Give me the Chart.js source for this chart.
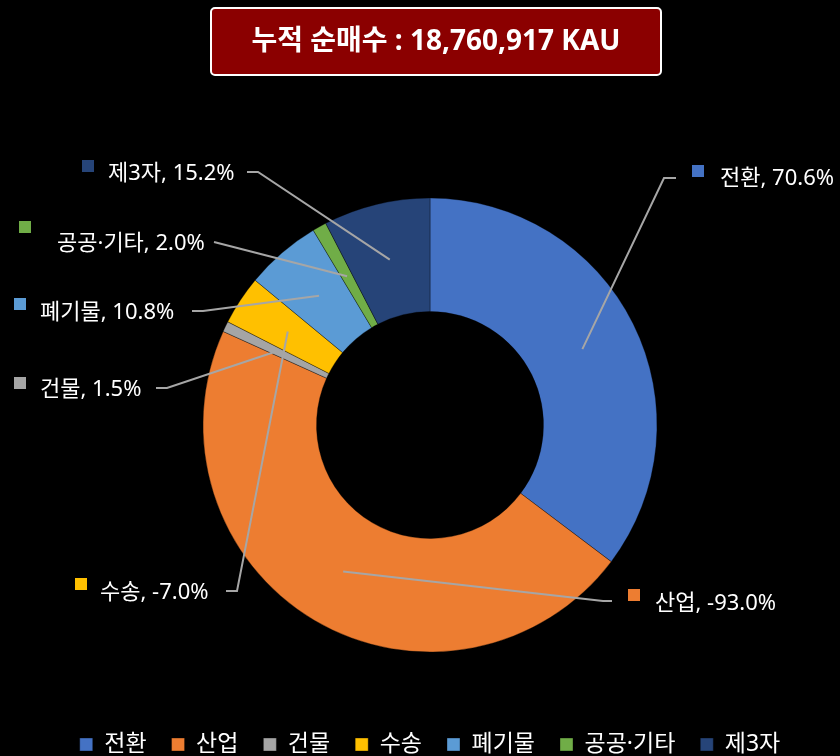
<!DOCTYPE html>
<html>
<head>
<meta charset="utf-8">
<script src="https://cdn.jsdelivr.net/npm/chart.js@4.4.1/dist/chart.umd.min.js"></script>
<style>
html,body{margin:0;padding:0;background:#000;}
#wrap{width:840px;height:756px;}
</style>
</head>
<body>
<div id="wrap"><canvas id="myChart" width="840" height="756"></canvas></div>
<script>
// 부문별 누적 순매수 비중 (%)
const categories = ["전환", "산업", "건물", "수송", "폐기물", "공공·기타", "제3자"];
const shares = [70.6, -93.0, 1.5, -7.0, 10.8, 2.0, 15.2];
const colors = ["#4472C4", "#ED7D31", "#A5A5A5", "#FFC000", "#5B9BD5", "#70AD47", "#264478"];
const titleText = "누적 순매수 : 18,760,917 KAU";

const FONT = "'Noto Sans', 'Noto Sans CJK KR', sans-serif";

// label placement: elbow / line end / square / text
const labelPos = [
  {ex:664, ey:178, lx:676, ly:178, sx:692, sy:165, tx:720, ty:179},
  {ex:603, ey:601, lx:612, ly:601, sx:628, sy:589, tx:655, ty:604},
  {ex:167, ey:388, lx:156, ly:388, sx:14,  sy:377, tx:40,  ty:390},
  {ex:237, ey:591, lx:226, ly:591, sx:75,  sy:578, tx:100, ty:593},
  {ex:203, ey:311, lx:192, ly:311, sx:14,  sy:298, tx:40,  ty:313},
  {ex:214, ey:242, lx:214, ly:242, sx:19,  sy:221, tx:57,  ty:244},
  {ex:258, ey:172, lx:247, ly:172, sx:82,  sy:160, tx:108, ty:174}
];

const bgPlugin = {
  id: "bg",
  beforeDraw(chart){
    const c = chart.ctx;
    c.save();
    c.fillStyle = "#000";
    c.fillRect(0, 0, chart.width, chart.height);
    c.restore();
  }
};

const titleBox = {
  id: "titleBox",
  afterDraw(chart){
    const c = chart.ctx;
    c.save();
    c.beginPath();
    c.roundRect(211, 8, 450, 67, 4);
    c.fillStyle = "#8B0000";
    c.fill();
    c.lineWidth = 2;
    c.strokeStyle = "#fff";
    c.stroke();
    c.fillStyle = "#fff";
    c.font = "bold 28px " + FONT;
    c.textAlign = "center";
    c.textBaseline = "middle";
    c.fillText(titleText, 436, 42);
    c.restore();
  }
};

const sliceLabels = {
  id: "sliceLabels",
  afterDatasetsDraw(chart){
    const c = chart.ctx;
    const arcs = chart.getDatasetMeta(0).data;
    c.save();
    arcs.forEach((arc, i) => {
      const p = labelPos[i];
      const m = arc.getCenterPoint();
      c.beginPath();
      c.moveTo(m.x, m.y);
      c.lineTo(p.ex, p.ey);
      c.lineTo(p.lx, p.ly);
      c.strokeStyle = "#A6A6A6";
      c.lineWidth = 2;
      c.stroke();
    });
    arcs.forEach((arc, i) => {
      const p = labelPos[i];
      c.fillStyle = colors[i];
      c.fillRect(p.sx, p.sy, 12, 12);
      c.fillStyle = "#fff";
      c.font = "22px " + FONT;
      c.textAlign = "left";
      c.textBaseline = "middle";
      c.fillText(categories[i] + ", " + shares[i].toFixed(1) + "%", p.tx, p.ty);
    });
    c.restore();
  }
};

const ctx =
document
.getElementById("myChart");

let chart =
new Chart(ctx,{

type:"doughnut",

data:{
  labels: categories,
  datasets:[{
    data: shares.map(v => Math.abs(v)),
    backgroundColor: colors,
    borderColor: "rgba(0,0,0,0.45)",
    borderWidth: 0.75,
    radius: 227,
    cutout: "50%"
  }]
},

options:{
  responsive:false,
  animation:false,
  layout:{
    padding:{top:142, bottom:-10, left:20, right:0}
  },
  plugins:{
    legend:{
      position:"bottom",
      labels:{
        color:"#fff",
        font:{family:FONT, size:23},
        boxWidth:13,
        boxHeight:13,
        padding:25
      }
    },
    tooltip:{enabled:false}
  }
},

plugins:[bgPlugin, titleBox, sliceLabels]

});
</script>
</body>
</html>
